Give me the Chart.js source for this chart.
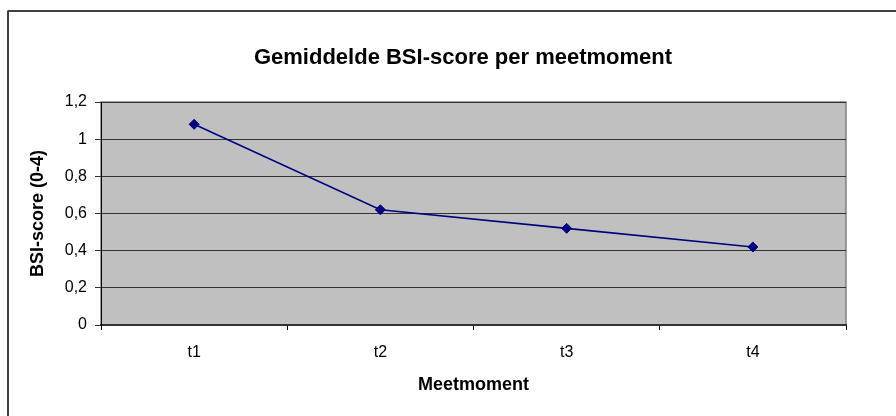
<!DOCTYPE html>
<html>
<head>
<meta charset="utf-8">
<script src="https://cdn.jsdelivr.net/npm/chart.js@4/dist/chart.umd.min.js"></script>
<style>
  html, body { margin: 0; padding: 0; background: #ffffff; }
  #wrap { width: 896px; height: 416px; position: relative; }
</style>
</head>
<body>
<div id="wrap"><canvas id="c" width="896" height="416"></canvas></div>
<script>
const categories = ["t1", "t2", "t3", "t4"];
const bsiScores = [1.08, 0.62, 0.52, 0.42];
const yTicks = [0, 0.2, 0.4, 0.6, 0.8, 1, 1.2];
const chartTitle = "Gemiddelde BSI-score per meetmoment";
const yTitle = "BSI-score (0-4)";
const xTitle = "Meetmoment";

const FONT = "'Liberation Sans', Arial, sans-serif";

const framePlugin = {
  id: 'frame',
  beforeDraw(chart) {
    const ctx = chart.ctx;
    ctx.save();
    ctx.fillStyle = '#ffffff';
    ctx.fillRect(0, 0, chart.width, chart.height);
    // outer frame (extends beyond the visible area)
    ctx.strokeStyle = '#000000';
    ctx.lineWidth = 1.5;
    ctx.beginPath();
    ctx.moveTo(8, 11);
    ctx.lineTo(2000, 11);
    ctx.stroke();
    ctx.strokeStyle = '#404040';
    ctx.lineWidth = 2;
    ctx.beginPath();
    ctx.moveTo(8, 10.5);
    ctx.lineTo(8, 2000);
    ctx.stroke();
    // plot area fill
    const a = chart.chartArea;
    ctx.fillStyle = '#c0c0c0';
    ctx.fillRect(a.left, a.top, a.right - a.left, a.bottom - a.top);
    ctx.strokeStyle = '#808080';
    ctx.lineWidth = 1.5;
    ctx.strokeRect(a.left, a.top, a.right - a.left, a.bottom - a.top);
    ctx.restore();
  }
};

new Chart(document.getElementById('c'), {
  type: 'line',
  data: {
    labels: categories,
    datasets: [{
      data: bsiScores,
      yAxisID: 'y',
      borderColor: '#000080',
      backgroundColor: '#000080',
      borderWidth: 1.6,
      pointStyle: 'rectRot',
      pointRadius: 5,
      pointHoverRadius: 5,
      pointBorderWidth: 1,
      tension: 0,
      fill: false
    }]
  },
  plugins: [framePlugin],
  options: {
    responsive: false,
    animation: false,
    devicePixelRatio: 1,
    layout: { padding: { left: 30, right: 0, top: 0, bottom: 0 } },
    plugins: {
      legend: { display: false },
      tooltip: { enabled: false },
      title: {
        display: true,
        text: chartTitle,
        color: '#000000',
        font: { family: FONT, size: 22, weight: 'bold' },
        padding: { top: 44.8, bottom: 30.8 }
      }
    },
    scales: {
      x: {
        type: 'category',
        offset: true,
        afterFit(scale) { scale.height = 91; },
        grid: {
          display: true,
          offset: true,
          drawOnChartArea: false,
          drawTicks: true,
          tickLength: 5,
          color: '#000000',
          lineWidth: 1
        },
        border: { display: true, color: '#333333', width: 2 },
        ticks: {
          color: '#000000',
          font: { family: FONT, size: 16 },
          padding: 13,
          maxRotation: 0
        },
        title: {
          display: true,
          text: xTitle,
          color: '#000000',
          font: { family: FONT, size: 18, weight: 'bold' },
          padding: { top: 0, bottom: 20.2 }
        }
      },
      y: {
        position: 'left',
        min: 0,
        max: 1.2,
        afterFit(scale) { scale.width = 71; },
        afterBuildTicks(scale) { scale.ticks = yTicks.map(v => ({ value: v })); },
        grid: {
          display: true,
          drawTicks: true,
          tickLength: 6,
          color: '#333333',
          lineWidth: 1
        },
        border: { display: true, color: '#000000', width: 1 },
        ticks: {
          color: '#000000',
          font: { family: FONT, size: 16 },
          padding: 8,
          callback: (v) => String(Math.round(v * 10) / 10).replace('.', ',')
        },
        title: {
          display: true,
          text: yTitle,
          color: '#000000',
          font: { family: FONT, size: 18, weight: 'bold' },
          padding: { top: -2.8, bottom: 0 }
        }
      },
      ySpacer: {
        position: 'right',
        display: true,
        min: 0,
        max: 1.2,
        afterFit(scale) { scale.width = 50; },
        grid: { display: false, drawOnChartArea: false },
        border: { display: false },
        ticks: { display: false }
      }
    }
  }
});
</script>
</body>
</html>
